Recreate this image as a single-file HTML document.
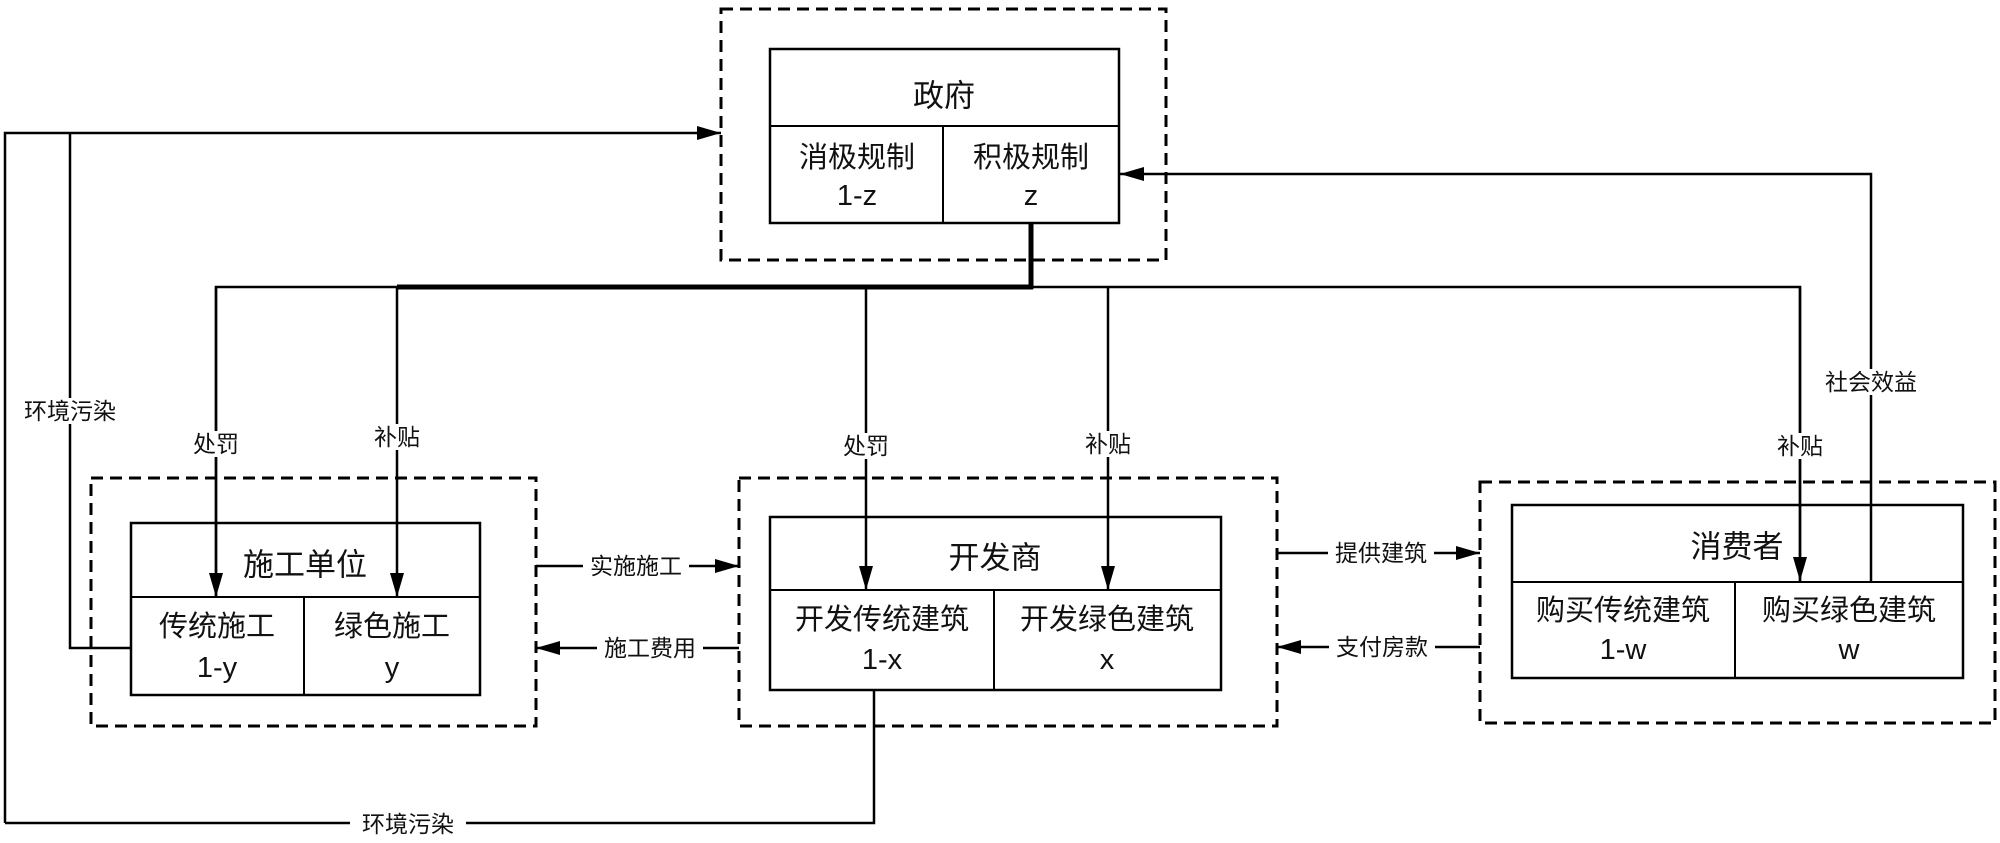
<!DOCTYPE html>
<html><head><meta charset="utf-8"><style>
html,body{margin:0;padding:0;background:#fff;}
svg{display:block;}
text{font-family:"Liberation Sans","Noto Sans CJK SC",sans-serif;fill:#111;}
</style></head><body>
<svg width="2000" height="843" viewBox="0 0 2000 843" xmlns="http://www.w3.org/2000/svg">
<defs>
<marker id="b" markerWidth="24" markerHeight="14" refX="24" refY="7" orient="auto" markerUnits="userSpaceOnUse" viewBox="0 0 24 14">
<path d="M0,0 L24,7 L0,14 z" fill="#000"/></marker>
</defs>
<g fill="none" stroke="#000" stroke-width="3" stroke-dasharray="12,7">
<rect x="721" y="9" width="445" height="251"/>
<rect x="91" y="478" width="445" height="248"/>
<rect x="739" y="478" width="538" height="248"/>
<rect x="1480" y="482" width="515" height="241"/>
</g>
<g fill="none" stroke="#000" stroke-width="2">
<rect x="770" y="49" width="349" height="174" stroke-width="2.5"/>
<line x1="770" y1="126" x2="1119" y2="126"/><line x1="943" y1="126" x2="943" y2="223"/>
<rect x="131" y="523" width="349" height="172" stroke-width="2.5"/>
<line x1="131" y1="597" x2="480" y2="597"/><line x1="304" y1="597" x2="304" y2="695"/>
<rect x="770" y="517" width="451" height="173" stroke-width="2.5"/>
<line x1="770" y1="590" x2="1221" y2="590"/><line x1="994" y1="590" x2="994" y2="690"/>
<rect x="1512" y="505" width="451" height="173" stroke-width="2.5"/>
<line x1="1512" y1="582" x2="1963" y2="582"/><line x1="1735" y1="582" x2="1735" y2="678"/>
</g>
<g fill="none" stroke="#000" stroke-width="2.5">
<polyline points="5,823 5,133 721,133" marker-end="url(#b)"/>
<polyline points="131,648 70,648 70,133"/>
<polyline points="5,823 874,823 874,691"/>
<polyline points="1871,582 1871,174 1120,174" marker-end="url(#b)"/>
<line x1="1031" y1="223" x2="1031" y2="289" stroke-width="5"/>
<line x1="397" y1="287" x2="1033" y2="287" stroke-width="5"/>
<polyline points="216,597 216,287 400,287"/>
<polyline points="1031,287 1800,287 1800,581"/>
<line x1="216" y1="287" x2="216" y2="597" marker-end="url(#b)"/>
<line x1="397" y1="287" x2="397" y2="597" marker-end="url(#b)"/>
<line x1="866" y1="287" x2="866" y2="590" marker-end="url(#b)"/>
<line x1="1108" y1="287" x2="1108" y2="590" marker-end="url(#b)"/>
<line x1="1800" y1="287" x2="1800" y2="581" marker-end="url(#b)"/>
<line x1="536" y1="566" x2="739" y2="566" marker-end="url(#b)"/>
<line x1="739" y1="648" x2="536" y2="648" marker-end="url(#b)"/>
<line x1="1277" y1="553" x2="1480" y2="553" marker-end="url(#b)"/>
<line x1="1480" y1="647" x2="1277" y2="647" marker-end="url(#b)"/>
</g>
<g font-size="23" text-anchor="middle" dominant-baseline="central">
<rect x="18" y="398" width="104" height="26" fill="#fff"/><text x="70" y="411">环境污染</text>
<rect x="350" y="811" width="116" height="26" fill="#fff"/><text x="408" y="824">环境污染</text>
<rect x="188" y="431" width="56" height="26" fill="#fff"/><text x="216" y="444">处罚</text>
<rect x="369" y="424" width="56" height="26" fill="#fff"/><text x="397" y="437">补贴</text>
<rect x="838" y="433" width="56" height="26" fill="#fff"/><text x="866" y="446">处罚</text>
<rect x="1080" y="431" width="56" height="26" fill="#fff"/><text x="1108" y="444">补贴</text>
<rect x="1772" y="433" width="56" height="26" fill="#fff"/><text x="1800" y="446">补贴</text>
<rect x="1818" y="369" width="106" height="26" fill="#fff"/><text x="1871" y="382">社会效益</text>
<rect x="583" y="553" width="106" height="26" fill="#fff"/><text x="636" y="566">实施施工</text>
<rect x="597" y="635" width="106" height="26" fill="#fff"/><text x="650" y="648">施工费用</text>
<rect x="1328" y="540" width="106" height="26" fill="#fff"/><text x="1381" y="553">提供建筑</text>
<rect x="1329" y="634" width="106" height="26" fill="#fff"/><text x="1382" y="647">支付房款</text>
</g>
<g font-size="31" text-anchor="middle" dominant-baseline="central">
<text x="944" y="96">政府</text>
<text x="305" y="565">施工单位</text>
<text x="995" y="558">开发商</text>
<text x="1737" y="547">消费者</text>
</g>
<g font-size="29" text-anchor="middle" dominant-baseline="central">
<text x="857" y="158">消极规制</text><text x="857" y="196">1-z</text>
<text x="1031" y="158">积极规制</text><text x="1031" y="196">z</text>
<text x="217" y="627">传统施工</text><text x="217" y="668">1-y</text>
<text x="392" y="627">绿色施工</text><text x="392" y="668">y</text>
<text x="882" y="620">开发传统建筑</text><text x="882" y="660">1-x</text>
<text x="1107" y="620">开发绿色建筑</text><text x="1107" y="660">x</text>
<text x="1623" y="611">购买传统建筑</text><text x="1623" y="650">1-w</text>
<text x="1849" y="611">购买绿色建筑</text><text x="1849" y="650">w</text>
</g>
</svg>
</body></html>
